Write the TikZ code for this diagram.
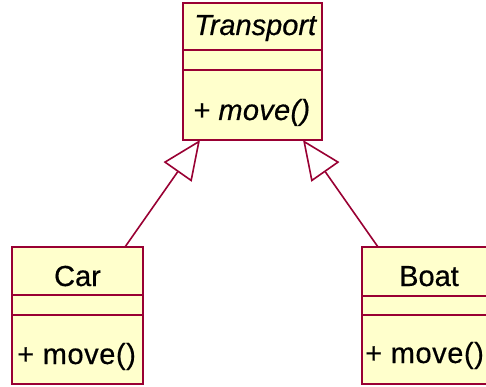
\documentclass[tikz,border=0pt]{standalone}
\usepackage{fontspec}
\setmainfont{Liberation Sans}
\usetikzlibrary{arrows.meta}
\definecolor{umlborder}{RGB}{153,0,51}
\definecolor{umlfill}{RGB}{255,255,204}
\tikzset{
  classbox/.style={draw=umlborder, fill=umlfill, line width=1.3pt, rectangle, anchor=north west, inner sep=0pt, outer sep=0pt},
  sepline/.style={draw=umlborder, line width=1.1pt},
  classtext/.style={inner sep=0pt, font=\fontsize{29}{33}\selectfont\addfontfeature{FakeBold=0.5}, text=black},
  optext/.style={classtext, font=\fontsize{29}{33}\selectfont\addfontfeature{FakeBold=0.5,LetterSpace=2}},
  inherit/.style={draw=umlborder, line width=1.6pt, -{Triangle[open, length=39pt, width=34pt, line width=1.6pt]}}
}
\begin{document}
\begin{tikzpicture}[x=1pt, y=-1pt]
\useasboundingbox (0,0) rectangle (486,387);
\clip (0,0) rectangle (486,387);
\fill[white] (0,0) rectangle (486,387);
% Transport
\node[classbox, minimum width=139pt, minimum height=137pt] (trans) at (183,3) {};
\draw[sepline] (183,50) -- (322,50);
\draw[sepline, line width=1.6pt] (183,70) -- (322,70);
\node[classtext, anchor=base west, font=\fontsize{29}{33}\selectfont\itshape\addfontfeature{FakeBold=0.5}] (transname) at (194,35) {Transport};
\node[optext, anchor=base west, font=\fontsize{29}{33}\selectfont\itshape\addfontfeature{FakeBold=0.5,LetterSpace=1}] (transop) at (193,120) {+ move()};
% Car
\node[classbox, minimum width=131pt, minimum height=137pt] (car) at (12,247) {};
\draw[sepline] (12,295) -- (143,295);
\draw[sepline] (12,315) -- (143,315);
\node[classtext, anchor=base] (carname) at (77.5,286) {Car};
\node[optext, anchor=base west] (carop) at (17,364) {+ move()};
% Boat
\node[classbox, minimum width=131pt, minimum height=137pt] (boat) at (362,247) {};
\draw[sepline] (362,296) -- (493,296);
\draw[sepline] (362,315) -- (493,315);
\node[classtext, anchor=base] (boatname) at (429,286) {Boat};
\node[optext, anchor=base west] (boatop) at (365,363) {+ move()};
% generalisations
\draw[inherit] ([xshift=-18pt]car.north east) -- ([xshift=17pt]trans.south west);
\draw[inherit] ([xshift=16pt]boat.north west) -- ([xshift=-19pt]trans.south east);
\end{tikzpicture}
\end{document}
